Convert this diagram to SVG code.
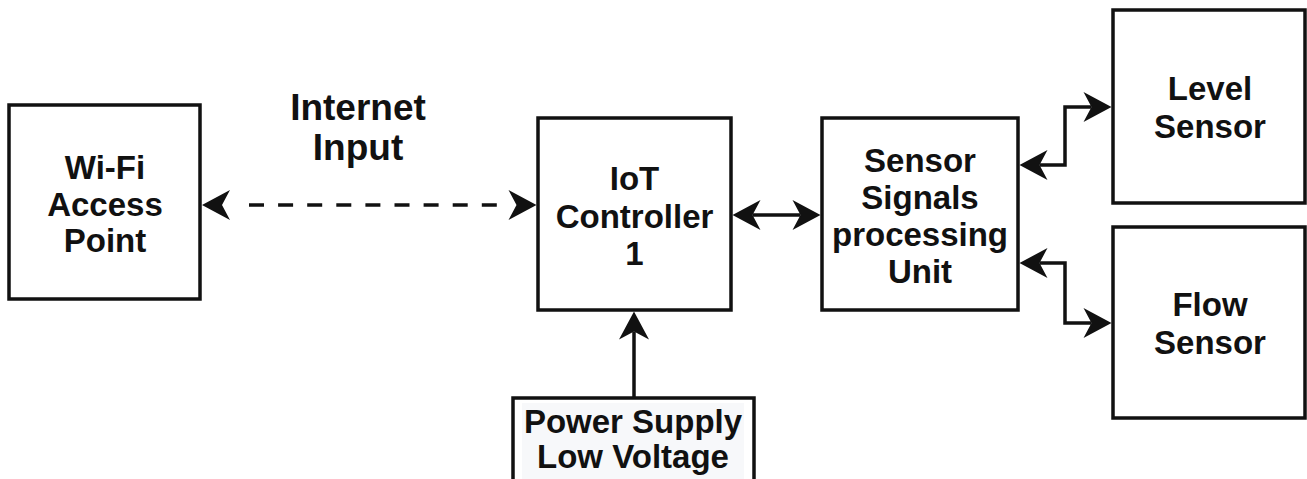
<svg xmlns="http://www.w3.org/2000/svg" width="1307" height="479" viewBox="0 0 1307 479">
  <style>
    .box { fill: #ffffff; stroke: #111111; stroke-width: 3.5; }
    .lbl { font-family: "Liberation Sans", Arial, sans-serif; font-weight: bold; font-size: 33px; fill: #111111; text-anchor: middle; }
    .big { font-size: 37px; }
    .wire { fill: none; stroke: #111111; stroke-width: 3.5; }
    .dash { stroke-dasharray: 0 27 15 14.1 15 14.1 15 14.1 15 14.1 15 14.1 15 14.1 15 14.1 15 14.1 15 60; }
  </style>
  <defs>
    <!-- classic notched arrowhead; origin sits at the notch, tip 20px ahead -->
    <marker id="arrow" markerUnits="userSpaceOnUse" viewBox="-10 -17 32 34" markerWidth="32" markerHeight="34" refX="0" refY="0" orient="auto-start-reverse" overflow="visible">
      <path d="M20,0 L-8,-15 L0,0 L-8,15 Z" fill="#111111"/>
    </marker>
  </defs>

  <rect width="1307" height="479" fill="#ffffff"/>

  <!-- connectors -->
  <g id="connectors">
    <path class="wire dash" d="M222,205 L516.5,205" marker-start="url(#arrow)" marker-end="url(#arrow)"/>
    <path class="wire" d="M752.5,215 L800.5,215" marker-start="url(#arrow)" marker-end="url(#arrow)"/>
    <path class="wire" d="M1039.5,165 L1065,165 L1065,107 L1091.5,107" marker-start="url(#arrow)" marker-end="url(#arrow)"/>
    <path class="wire" d="M1039.5,263 L1065,263 L1065,323 L1091.5,323" marker-start="url(#arrow)" marker-end="url(#arrow)"/>
    <path class="wire" d="M634,398 L634,331.5" marker-end="url(#arrow)"/>
  </g>

  <g id="wifi-ap">
    <rect class="box" x="9" y="105" width="191" height="194"/>
    <text class="lbl" x="105" y="179">Wi-Fi</text>
    <text class="lbl" x="105" y="216">Access</text>
    <text class="lbl" x="105" y="252">Point</text>
  </g>

  <g id="internet-label">
    <text class="lbl big" x="358" y="120">Internet</text>
    <text class="lbl big" x="358" y="160">Input</text>
  </g>

  <g id="iot-controller">
    <rect class="box" x="538" y="118" width="193" height="192"/>
    <text class="lbl" x="634.5" y="190">IoT</text>
    <text class="lbl" x="634.5" y="228">Controller</text>
    <text class="lbl" x="634.5" y="265">1</text>
  </g>

  <g id="signal-unit">
    <rect class="box" x="822" y="118" width="196" height="192"/>
    <text class="lbl" x="920" y="172">Sensor</text>
    <text class="lbl" x="920" y="209">Signals</text>
    <text class="lbl" x="920" y="246">processing</text>
    <text class="lbl" x="920" y="283">Unit</text>
  </g>

  <g id="level-sensor">
    <rect class="box" x="1113" y="10" width="192" height="193"/>
    <text class="lbl" x="1210" y="100">Level</text>
    <text class="lbl" x="1210" y="138">Sensor</text>
  </g>

  <g id="flow-sensor">
    <rect class="box" x="1113" y="227" width="192" height="191"/>
    <text class="lbl" x="1210" y="316">Flow</text>
    <text class="lbl" x="1210" y="354">Sensor</text>
  </g>

  <g id="power-supply">
    <rect class="box" x="513" y="398" width="241" height="100"/>
    <rect x="522" y="403" width="222" height="76" fill="#f7f8fa"/>
    <text class="lbl" x="633" y="433">Power Supply</text>
    <text class="lbl" x="633" y="468">Low Voltage</text>
  </g>
</svg>
